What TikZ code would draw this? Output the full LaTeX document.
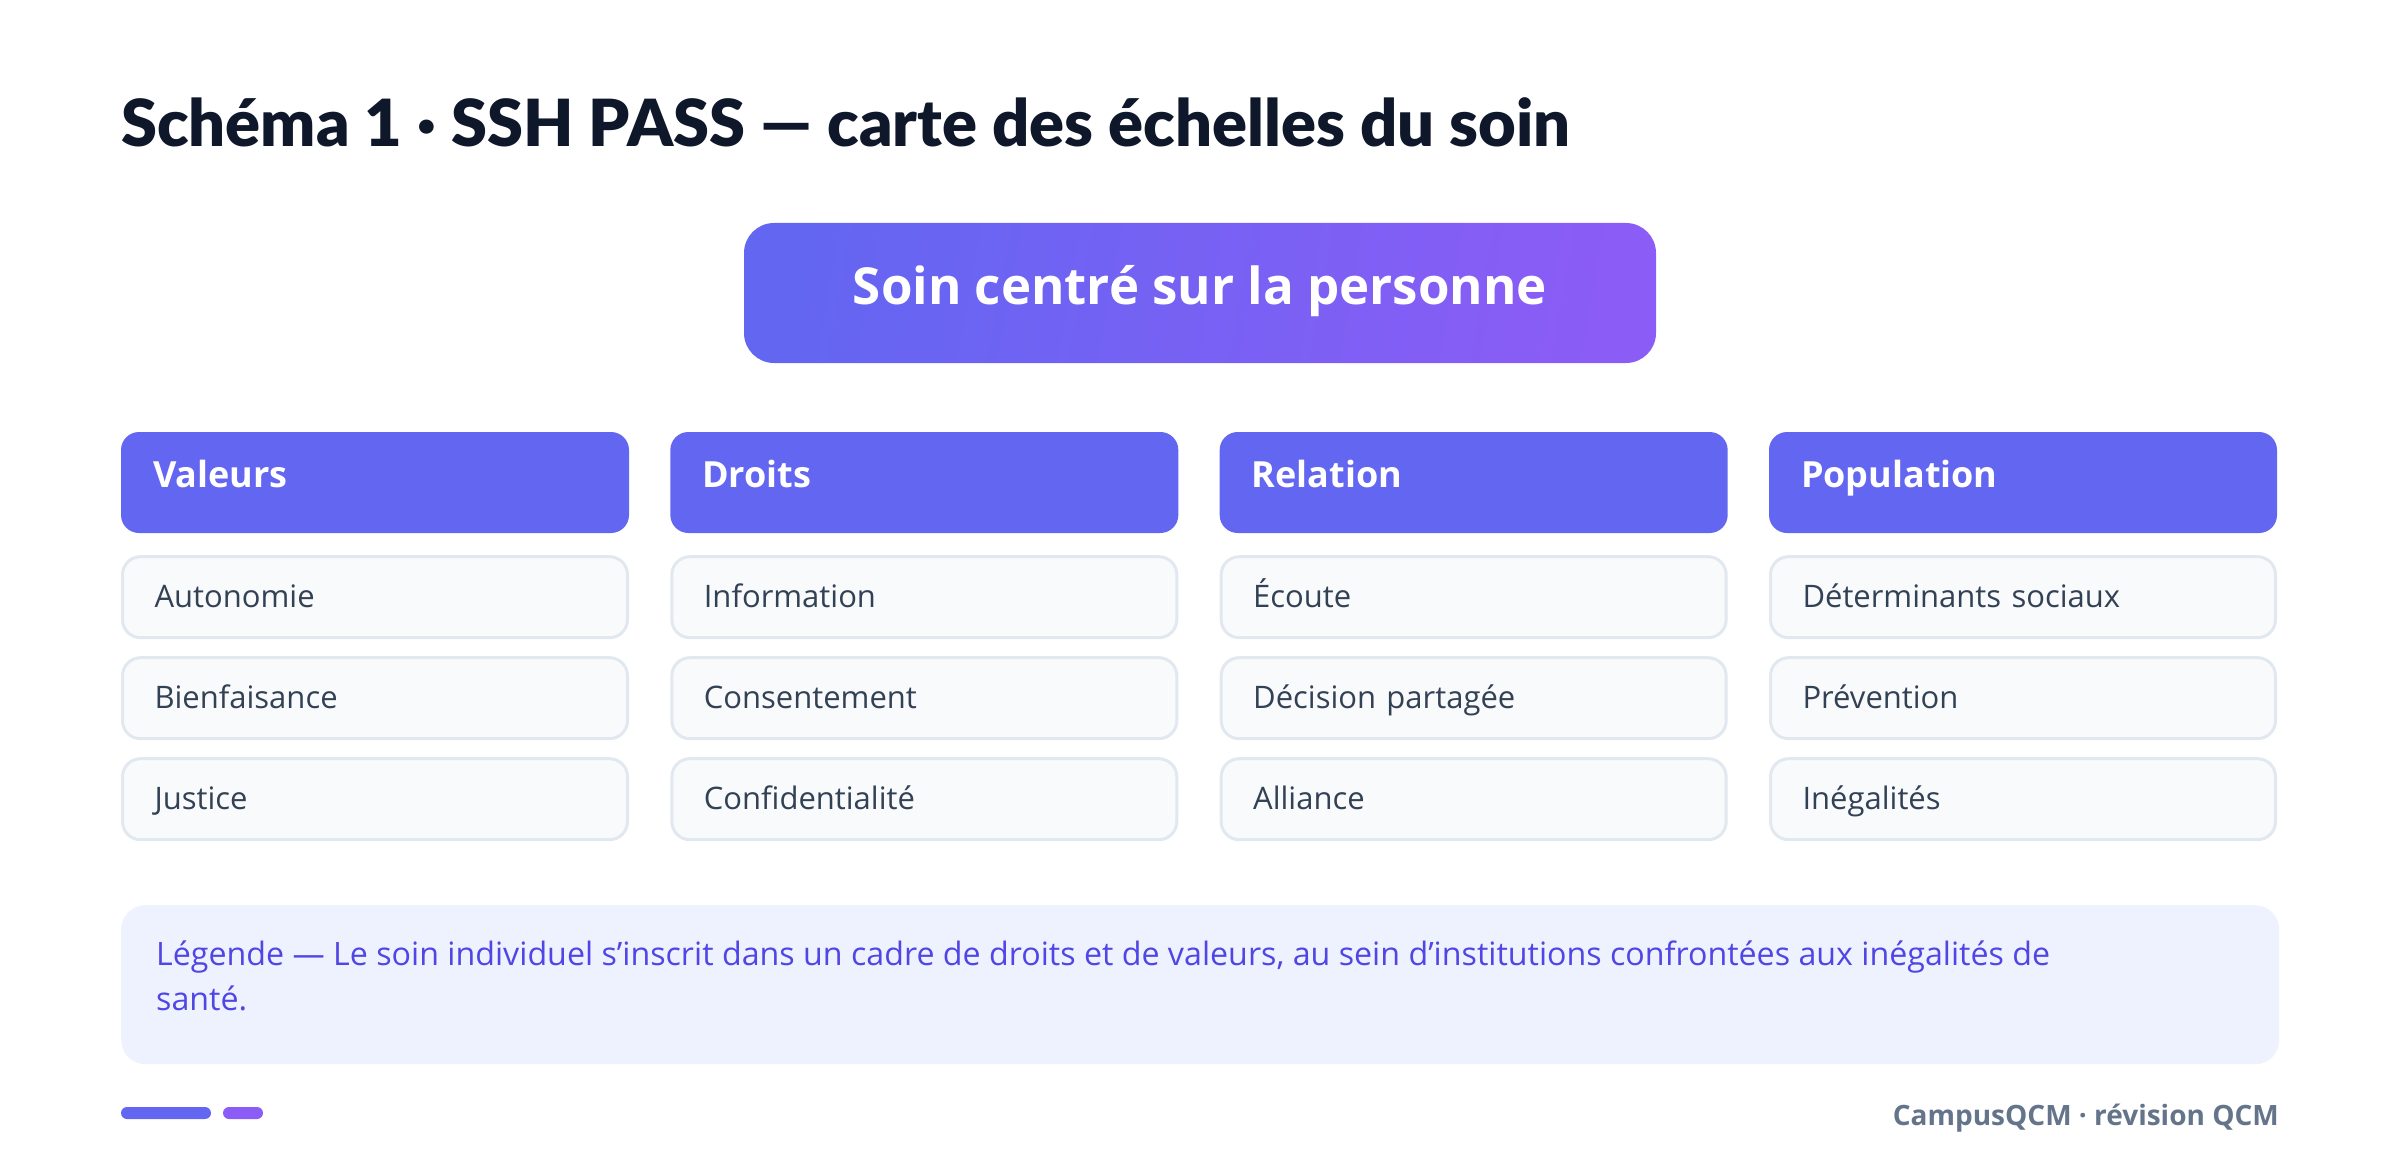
\documentclass[tikz,border=0pt]{standalone}
\usepackage{fontspec}
\setmainfont{Open Sans}
\newfontfamily\titlefont{Lato}[UprightFont=* Black]
\usepackage{xcolor}
\usetikzlibrary{positioning,calc}

\definecolor{indigo}{HTML}{6366F1}
\definecolor{violet}{HTML}{8B5CF6}
\definecolor{navy}{HTML}{0F172A}
\definecolor{slate}{HTML}{334155}
\definecolor{itemfill}{HTML}{F8FAFC}
\definecolor{itemline}{HTML}{E2E8F0}
\definecolor{legfill}{HTML}{EEF2FF}
\definecolor{legtext}{HTML}{4F46E5}
\definecolor{foottext}{HTML}{64748B}

\tikzset{
    header/.style={rectangle, rounded corners=18pt, fill=indigo, text=white,
        font=\fontsize{36}{43}\selectfont\bfseries, minimum width=508pt,
        minimum height=101pt, text width=444pt, inner xsep=32pt, align=left,
        text height=26pt, text depth=17pt},
    item/.style={rectangle, rounded corners=18pt, fill=itemfill, draw=itemline,
        line width=3pt, text=slate, font=\fontsize{31}{38}\selectfont,
        minimum width=505pt, minimum height=81pt, text width=441pt,
        inner xsep=32pt, align=left, text height=26pt, text depth=6pt}
}

\begin{document}
\begin{tikzpicture}[x=1pt,y=-1pt]
    \useasboundingbox (0,0) rectangle (2400,1174);

    % Title
    \node [anchor=base west, inner sep=0, text=navy,
        font=\fontsize{65}{77}\titlefont] (title) at (121,147)
        {Schéma 1 · SSH PASS — carte des échelles du soin};

    % Central box
    \node [rounded corners=30pt, left color=indigo, right color=violet,
        shading angle=80, minimum width=912pt, minimum height=140pt,
        text=white, text height=37pt, text depth=15pt,
        font=\fontsize{51}{61}\selectfont\bfseries] (centre) at (1200,293)
        {Soin centré sur la personne};

    % Columns: header and three items
    \foreach \c/\hd/\a/\b/\d in {0/Valeurs/Autonomie/Bienfaisance/Justice,
        1/Droits/Information/Consentement/Confidentialité,
        2/Relation/Écoute/Décision partagée/Alliance,
        3/Population/Déterminants sociaux/Prévention/Inégalités} {
        \pgfmathsetmacro{\xc}{375+549.33*\c}
        \node [header] (hd\c) at (\xc,482.5) {\hd};
        \node [item, below=22pt of hd\c] (one\c) {\a};
        \node [item, below=17pt of one\c] (two\c) {\b};
        \node [item, below=17pt of two\c] (three\c) {\d};
    }

    % Legend
    \node [anchor=north west, rounded corners=24pt, fill=legfill,
        minimum width=2158pt, minimum height=159pt] (legend) at (121,905) {};
    \node [anchor=base west, inner sep=0, align=left, text=legtext,
        font=\fontsize{32.2}{45}\selectfont] (legendtext) at (156,1010)
        {Légende — Le soin individuel s'inscrit dans un cadre de droits et de valeurs, au sein d'institutions confrontées aux inégalités de\\santé.};

    % Footer
    \fill [indigo, rounded corners=6pt] (121,1107) rectangle (211,1119);
    \fill [violet, rounded corners=6pt] (223,1107) rectangle (263,1119);
    \node [anchor=base east, inner sep=0, text=foottext,
        font=\fontsize{28}{34}\selectfont\bfseries] (footer) at (2279,1125)
        {CampusQCM · révision QCM};
\end{tikzpicture}
\end{document}
